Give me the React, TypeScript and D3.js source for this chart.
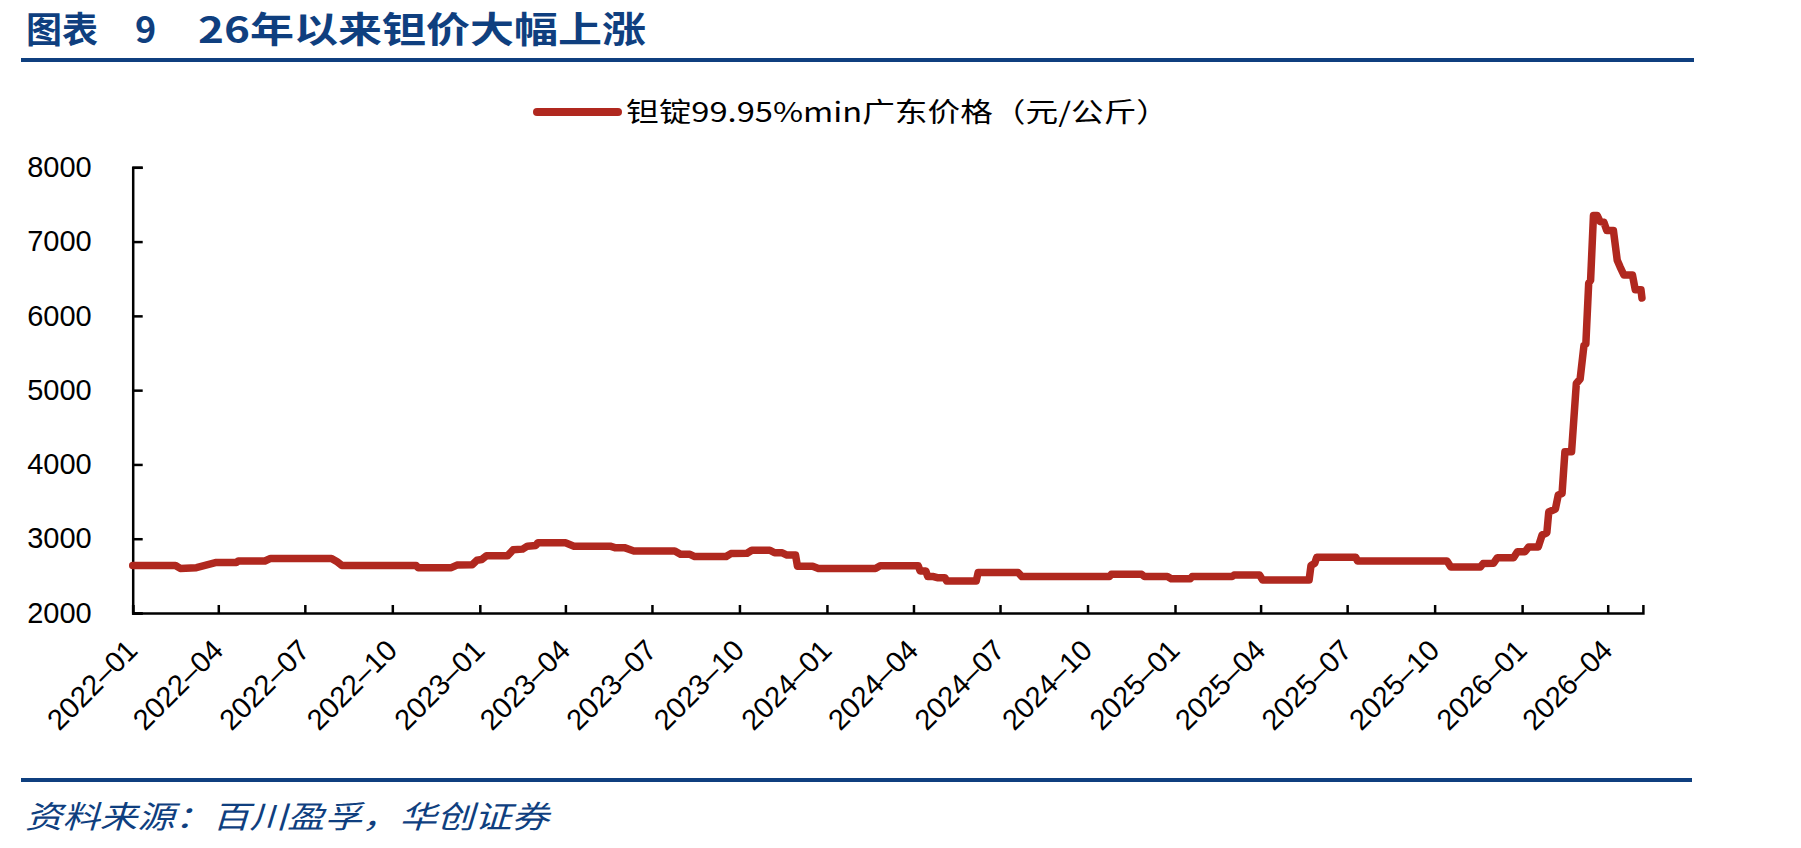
import React, { useEffect, useRef } from "react";
import * as d3 from "d3";

const WIDTH = 1801;
const HEIGHT = 848;

const titleLabel = "图表 ";
const titleNumber = "9";
const titleText = "26年以来钽价大幅上涨";
const seriesName = "钽锭99.95%min广东价格（元/公斤）";
const sourceText = "资料来源：百川盈孚，华创证券";

const yTicks = [2000, 3000, 4000, 5000, 6000, 7000, 8000];
const xDomain = ["2022-01-01", "2026-05-08"];

// price change points, [date, 元/公斤]
const prices2022: [string, number][] = [
  ["2022-01-01", 2640], ["2022-02-15", 2640], ["2022-02-20", 2600], ["2022-03-09", 2610],
  ["2022-03-30", 2680], ["2022-04-20", 2680], ["2022-04-22", 2700], ["2022-05-20", 2700],
  ["2022-05-26", 2735], ["2022-07-29", 2735], ["2022-08-04", 2690], ["2022-08-09", 2640],
  ["2022-10-26", 2640], ["2022-10-28", 2610], ["2022-12-02", 2610], ["2022-12-08", 2645],
  ["2022-12-24", 2650], ["2022-12-29", 2710],
];
const prices2023: [string, number][] = [
  ["2023-01-03", 2720], ["2023-01-08", 2770], ["2023-01-30", 2770], ["2023-02-05", 2850],
  ["2023-02-15", 2860], ["2023-02-20", 2900], ["2023-03-01", 2910], ["2023-03-03", 2945],
  ["2023-04-01", 2945], ["2023-04-10", 2900], ["2023-05-18", 2900], ["2023-05-23", 2880],
  ["2023-06-02", 2880], ["2023-06-12", 2835], ["2023-07-25", 2835], ["2023-07-31", 2790],
  ["2023-08-10", 2790], ["2023-08-15", 2760], ["2023-09-17", 2760], ["2023-09-22", 2800],
  ["2023-10-09", 2805], ["2023-10-14", 2845], ["2023-11-02", 2845], ["2023-11-07", 2810],
  ["2023-11-15", 2810], ["2023-11-20", 2780], ["2023-11-29", 2780], ["2023-12-01", 2630],
  ["2023-12-17", 2630], ["2023-12-23", 2600],
];
const prices2024: [string, number][] = [
  ["2024-02-21", 2600], ["2024-02-26", 2635], ["2024-04-06", 2635], ["2024-04-08", 2565],
  ["2024-04-14", 2565], ["2024-04-16", 2490], ["2024-04-22", 2490], ["2024-04-26", 2475],
  ["2024-05-04", 2475], ["2024-05-06", 2430], ["2024-06-06", 2430], ["2024-06-08", 2545],
  ["2024-07-20", 2545], ["2024-07-24", 2490], ["2024-10-24", 2490], ["2024-10-26", 2520],
  ["2024-11-27", 2520], ["2024-11-30", 2490], ["2024-12-24", 2490], ["2024-12-28", 2460],
];
const prices2025: [string, number][] = [
  ["2025-01-17", 2460], ["2025-01-19", 2490], ["2025-03-02", 2490], ["2025-03-04", 2510],
  ["2025-03-31", 2510], ["2025-04-03", 2445], ["2025-05-22", 2445], ["2025-05-24", 2640],
  ["2025-05-28", 2670], ["2025-05-30", 2750], ["2025-07-10", 2750], ["2025-07-12", 2700],
  ["2025-10-14", 2700], ["2025-10-18", 2620], ["2025-11-18", 2620], ["2025-11-21", 2665],
  ["2025-12-02", 2670], ["2025-12-06", 2745], ["2025-12-23", 2745], ["2025-12-27", 2825],
];
const prices2026: [string, number][] = [
  ["2026-01-04", 2825], ["2026-01-08", 2890], ["2026-01-18", 2890], ["2026-01-22", 3050],
  ["2026-01-27", 3080], ["2026-01-29", 3360], ["2026-02-05", 3400], ["2026-02-08", 3590],
  ["2026-02-12", 3610], ["2026-02-15", 4170], ["2026-02-22", 4170], ["2026-02-27", 5090],
  ["2026-03-03", 5150], ["2026-03-07", 5600], ["2026-03-09", 5620], ["2026-03-12", 6440],
  ["2026-03-14", 6480], ["2026-03-17", 7350], ["2026-03-21", 7350], ["2026-03-24", 7270],
  ["2026-03-28", 7260], ["2026-03-31", 7150], ["2026-04-07", 7150], ["2026-04-11", 6750],
  ["2026-04-14", 6660], ["2026-04-18", 6550], ["2026-04-27", 6550], ["2026-04-30", 6350],
  ["2026-05-06", 6350], ["2026-05-07", 6240],
];

const blue = "#0f3f7f";
const red = "#b0281f";
const latinFont = "'Liberation Sans', Arial, sans-serif";
const cjkFont = "'Noto Sans CJK SC', sans-serif";

export default function App() {
  const svgRef = useRef<SVGSVGElement>(null);

  useEffect(() => {
    const parse = d3.timeParse("%Y-%m-%d");
    const data = [...prices2022, ...prices2023, ...prices2024, ...prices2025, ...prices2026]
      .map(([d, v]) => ({ date: parse(d) as Date, value: v }));

    const svg = d3.select(svgRef.current);
    svg.selectAll("*").remove();

    // header
    const label = svg.append("text")
      .attr("x", 26).attr("y", 43)
      .attr("font-family", cjkFont).attr("font-weight", 700)
      .attr("font-size", 36).attr("fill", blue)
      .attr("xml:space", "preserve");
    label.append("tspan").text(titleLabel);
    label.append("tspan").attr("x", 135).text(titleNumber);
    svg.append("text")
      .attr("x", 198).attr("y", 43)
      .attr("font-family", cjkFont).attr("font-weight", 700)
      .attr("font-size", 36).attr("fill", blue)
      .attr("textLength", 448).attr("lengthAdjust", "spacingAndGlyphs")
      .text(titleText);
    svg.append("rect")
      .attr("x", 21).attr("y", 58).attr("width", 1673).attr("height", 4)
      .attr("fill", blue);

    // legend
    svg.append("line")
      .attr("x1", 537).attr("x2", 618).attr("y1", 112).attr("y2", 112)
      .attr("stroke", red).attr("stroke-width", 8).attr("stroke-linecap", "round");
    svg.append("text")
      .attr("x", 626).attr("y", 122)
      .attr("font-family", cjkFont).attr("font-size", 27).attr("fill", "#000")
      .attr("textLength", 543).attr("lengthAdjust", "spacingAndGlyphs")
      .text(seriesName);

    // scales
    const x = d3.scaleTime()
      .domain(xDomain.map((d) => parse(d) as Date))
      .range([132.7, 1642.9]);
    const y = d3.scaleLinear().domain([2000, 8000]).range([613, 167.3]);

    const g = svg.append("g");

    // y axis
    const yAxis = d3.axisLeft(y).tickValues(yTicks).tickSize(-10).tickPadding(41)
      .tickFormat(d3.format("d"));
    const gy = g.append("g").attr("transform", "translate(132.7,0)").call(yAxis);
    gy.select(".domain").attr("stroke-width", 2.5);
    gy.selectAll(".tick line").attr("stroke-width", 2.5);
    gy.selectAll(".tick text")
      .attr("font-family", latinFont).attr("font-size", 29).attr("fill", "#000");

    // x axis
    const xAxis = d3.axisBottom(x).ticks(d3.timeMonth.every(3)).tickSize(-8)
      .tickFormat((d) => d3.timeFormat("%Y–%m")(d as Date));
    const gx = g.append("g").attr("transform", "translate(0,613)").call(xAxis);
    gx.select(".domain").attr("stroke-width", 2.5);
    gx.selectAll(".tick line").attr("stroke-width", 2.5);
    gx.selectAll(".tick text")
      .attr("font-family", latinFont).attr("font-size", 29).attr("fill", "#000")
      .attr("text-anchor", "end")
      .attr("y", 0).attr("dy", 0)
      .attr("transform", "translate(6,39) rotate(-45)");

    // price line
    const line = d3.line<{ date: Date; value: number }>()
      .x((d) => x(d.date))
      .y((d) => y(d.value));
    g.append("path")
      .datum(data)
      .attr("d", line)
      .attr("fill", "none")
      .attr("stroke", red)
      .attr("stroke-width", 7.5)
      .attr("stroke-linejoin", "round")
      .attr("stroke-linecap", "round");

    // footer
    svg.append("rect")
      .attr("x", 21).attr("y", 778).attr("width", 1671).attr("height", 4)
      .attr("fill", blue);
    svg.append("text")
      .attr("x", 25).attr("y", 828)
      .attr("font-family", cjkFont).attr("font-style", "italic")
      .attr("font-size", 31).attr("fill", blue)
      .attr("textLength", 524).attr("lengthAdjust", "spacingAndGlyphs")
      .text(sourceText);
  }, []);

  return (
    <div>
      <style>{"body{margin:0;background:#fff}"}</style>
      <svg ref={svgRef} width={WIDTH} height={HEIGHT} style={{ display: "block" }} />
    </div>
  );
}
